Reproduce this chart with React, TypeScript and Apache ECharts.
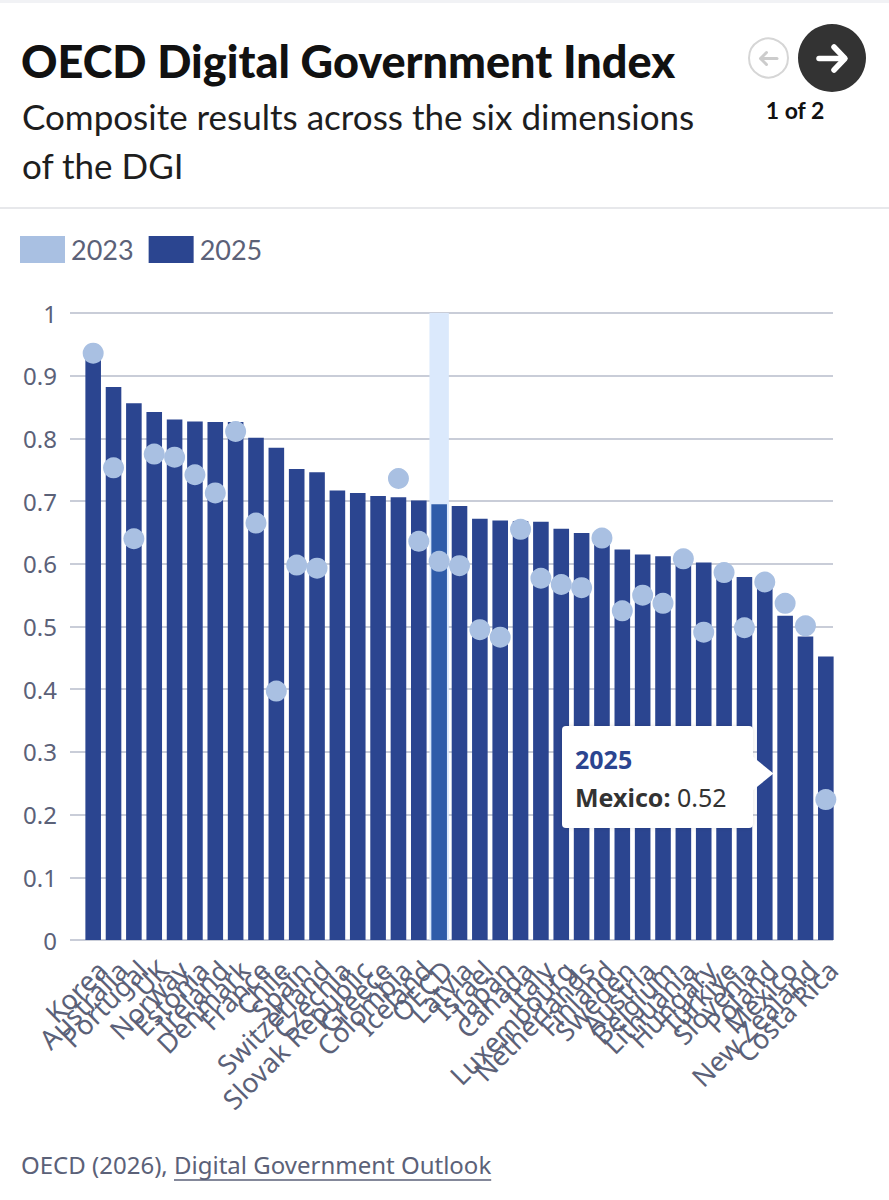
import React, { useEffect, useRef } from "react";
import * as echarts from "echarts";

const categories = [
  "Korea", "Australia", "Portugal", "UK", "Norway", "Estonia", "Ireland", "Denmark",
  "France", "Chile", "Spain", "Switzerland", "Czechia", "Slovak Republic", "Greece",
  "Colombia", "Iceland", "OECD", "Latvia", "Israel", "Japan", "Canada", "Italy",
  "Luxembourg", "Netherlands", "Finland", "Sweden", "Austria", "Belgium", "Lithuania",
  "Hungary", "Türkiye", "Slovenia", "Poland", "Mexico", "New Zealand", "Costa Rica",
];

const values2025 = [
  0.937, 0.882, 0.856, 0.842, 0.830, 0.827, 0.826, 0.826, 0.801, 0.785, 0.751, 0.746,
  0.717, 0.713, 0.708, 0.706, 0.701, 0.695, 0.692, 0.672, 0.669, 0.668, 0.667, 0.656,
  0.649, 0.640, 0.623, 0.615, 0.612, 0.606, 0.602, 0.590, 0.579, 0.570, 0.517, 0.484,
  0.452,
];

const values2023 = [
  0.936, 0.753, 0.640, 0.775, 0.770, 0.742, 0.713, 0.811, 0.665, 0.397, 0.598, 0.593,
  null, null, null, 0.736, 0.636, 0.604, 0.597, 0.495, 0.483, 0.655, 0.577, 0.567,
  0.562, 0.641, 0.525, 0.550, 0.537, 0.608, 0.491, 0.586, 0.498, 0.571, 0.537, 0.501,
  0.224,
];

const yTicks = { min: 0, max: 1, interval: 0.1 };
const highlightCategory = "OECD";
const tooltipCategory = "Mexico";

const TITLE = "OECD Digital Government Index";
const SUBTITLE_1 = "Composite results across the six dimensions";
const SUBTITLE_2 = "of the DGI";
const SOURCE_PREFIX = "OECD (2026), ";
const SOURCE_LINK = "Digital Government Outlook";

const DARK = "#2b4590";
const LIGHT = "#a9c0e2";
const HIGHLIGHT = "#2f5ca9";
const BAND = "#dbe9fc";
const LABEL = "#5b6178";

function measure(text: string, font: string): number {
  const c = document.createElement("canvas").getContext("2d");
  if (!c) return text.length * 12;
  c.font = font;
  return c.measureText(text).width;
}

export default function App() {
  const ref = useRef<HTMLDivElement>(null);

  useEffect(() => {
    document.body.style.margin = "0";
    if (!ref.current) return;
    const chart = echarts.init(ref.current, undefined, { renderer: "svg" });

    const prefixW = measure(SOURCE_PREFIX, "24px 'Noto Sans'");
    const linkW = measure(SOURCE_LINK, "24px 'Noto Sans'");
    const tipIdx = categories.indexOf(tooltipCategory);

    const option: any = {
      animation: false,
      backgroundColor: "#ffffff",
      legend: {
        data: [
          { name: "2023", icon: "rect" },
          { name: "2025", icon: "rect" },
        ],
        left: 20,
        top: 236,
        padding: 0,
        itemWidth: 45,
        itemHeight: 27,
        itemGap: 15,
        selectedMode: false,
        textStyle: { fontFamily: "Lato", fontSize: 27, color: LABEL, padding: [0, 0, 0, 1] },
      },
      grid: [
        { left: 70, right: 56, top: 313, bottom: 260 },
        { left: 83, right: 53, top: 313, bottom: 260 },
        { left: 92, right: 46, top: 313, bottom: 260 },
      ],
      xAxis: [
        { type: "category", gridIndex: 0, data: categories, show: false },
        {
          type: "category",
          gridIndex: 1,
          data: categories,
          axisLine: { show: false },
          axisTick: { show: false },
          axisLabel: { show: false },
        },
        { type: "category", gridIndex: 1, data: categories, show: false },
        {
          type: "category",
          gridIndex: 2,
          data: categories,
          axisLine: { show: false },
          axisTick: { show: false },
          axisLabel: {
            interval: 0,
            rotate: 45,
            margin: 25,
            fontFamily: "Noto Sans",
            fontSize: 27,
            color: LABEL,
          },
        },
      ],
      yAxis: [
        {
          type: "value",
          gridIndex: 0,
          min: yTicks.min,
          max: yTicks.max,
          interval: yTicks.interval,
          axisLine: { show: false },
          axisTick: { show: false },
          axisLabel: { margin: 13, fontFamily: "Noto Sans", fontSize: 24, color: LABEL },
          splitLine: { lineStyle: { color: "#c9cdd8", width: 2 } },
        },
        { type: "value", gridIndex: 1, min: yTicks.min, max: yTicks.max, show: false },
        { type: "value", gridIndex: 2, min: yTicks.min, max: yTicks.max, show: false },
      ],
      series: [
        {
          name: "band",
          type: "bar",
          xAxisIndex: 2,
          yAxisIndex: 1,
          barWidth: 19.4,
          silent: true,
          z: 1,
          itemStyle: { color: BAND },
          data: categories.map((c) => (c === highlightCategory ? yTicks.max : null)),
        },
        {
          name: "2025",
          type: "bar",
          xAxisIndex: 1,
          yAxisIndex: 1,
          barWidth: 15.6,
          z: 2,
          itemStyle: { color: DARK },
          data: values2025.map((v, i) =>
            categories[i] === highlightCategory ? { value: v, itemStyle: { color: HIGHLIGHT } } : v
          ),
        },
        {
          name: "2023",
          type: "scatter",
          xAxisIndex: 1,
          yAxisIndex: 1,
          symbolSize: 21,
          z: 3,
          itemStyle: { color: LIGHT, opacity: 1 },
          data: values2023,
        },
      ],
      graphic: [
        { type: "rect", shape: { x: 0, y: 0, width: 889, height: 3 }, style: { fill: "#f1f2f5" } },
        {
          type: "text",
          x: 21,
          y: 61,
          style: {
            text: TITLE,
            font: "900 45px Lato",
            fill: "#111111",
            verticalAlign: "middle",
          },
        },
        {
          type: "text",
          x: 22,
          y: 116,
          style: { text: SUBTITLE_1, font: "35px Lato", fill: "#1e1e1e", verticalAlign: "middle" },
        },
        {
          type: "text",
          x: 22,
          y: 165,
          style: { text: SUBTITLE_2, font: "35px Lato", fill: "#1e1e1e", verticalAlign: "middle" },
        },
        {
          type: "circle",
          shape: { cx: 768.5, cy: 58, r: 19.5 },
          style: { fill: "#ffffff", stroke: "#d6d6d6", lineWidth: 2 },
        },
        {
          type: "polyline",
          shape: { points: [[766.5, 52.5], [760.5, 58.5], [766.5, 64.5]] },
          style: { stroke: "#cccccc", lineWidth: 3, fill: "none", lineCap: "round", lineJoin: "round" },
        },
        {
          type: "line",
          shape: { x1: 761, y1: 58.5, x2: 777, y2: 58.5 },
          style: { stroke: "#cccccc", lineWidth: 3, lineCap: "round" },
        },
        {
          type: "circle",
          shape: { cx: 832, cy: 58, r: 34 },
          style: { fill: "#333333" },
        },
        {
          type: "polyline",
          shape: { points: [[834, 47], [845, 58.5], [834, 70]] },
          style: { stroke: "#ffffff", lineWidth: 5.5, fill: "none", lineCap: "round", lineJoin: "round" },
        },
        {
          type: "line",
          shape: { x1: 819, y1: 58.5, x2: 843, y2: 58.5 },
          style: { stroke: "#ffffff", lineWidth: 5.5, lineCap: "round" },
        },
        {
          type: "text",
          x: 795,
          y: 110,
          style: {
            text: "1 of 2",
            font: "bold 23px Lato",
            fill: "#111111",
            align: "center",
            verticalAlign: "middle",
          },
        },
        {
          type: "line",
          shape: { x1: 0, y1: 208, x2: 889, y2: 208 },
          style: { stroke: "#e7e8eb", lineWidth: 2 },
        },
        // tooltip
        {
          type: "rect",
          shape: { x: 562, y: 726, width: 191, height: 102, r: 4 },
          style: { fill: "#ffffff", shadowBlur: 4, shadowColor: "rgba(0,0,0,0.12)" },
          z: 100,
        },
        {
          type: "polygon",
          shape: { points: [[752, 756], [773.5, 773.5], [752, 791]] },
          style: { fill: "#ffffff" },
          z: 101,
        },
        {
          type: "text",
          x: 575,
          y: 759,
          z: 102,
          style: {
            text: "2025",
            font: "bold 25px 'Noto Sans'",
            fill: DARK,
            verticalAlign: "middle",
          },
        },
        {
          type: "text",
          x: 575,
          y: 797,
          z: 102,
          style: {
            text: `{b|${tooltipCategory}:}{n| ${(values2025[tipIdx] as number).toFixed(2)}}`,
            verticalAlign: "middle",
            rich: {
              b: { fontFamily: "Noto Sans", fontWeight: "bold", fontSize: 25, fill: "#333333" },
              n: { fontFamily: "Noto Sans", fontSize: 25, fill: "#333333" },
            },
          },
        },
        // footer
        {
          type: "text",
          x: 21,
          y: 1164,
          style: { text: SOURCE_PREFIX, font: "24px 'Noto Sans'", fill: LABEL, verticalAlign: "middle" },
        },
        {
          type: "text",
          x: 21 + prefixW,
          y: 1164,
          style: { text: SOURCE_LINK, font: "24px 'Noto Sans'", fill: LABEL, verticalAlign: "middle" },
        },
        {
          type: "line",
          shape: { x1: 21 + prefixW, y1: 1180, x2: 21 + prefixW + linkW, y2: 1180 },
          style: { stroke: LABEL, lineWidth: 1.5 },
        },
      ],
    };

    chart.setOption(option);
    return () => chart.dispose();
  }, []);

  return <div ref={ref} style={{ width: 889, height: 1200 }} />;
}
